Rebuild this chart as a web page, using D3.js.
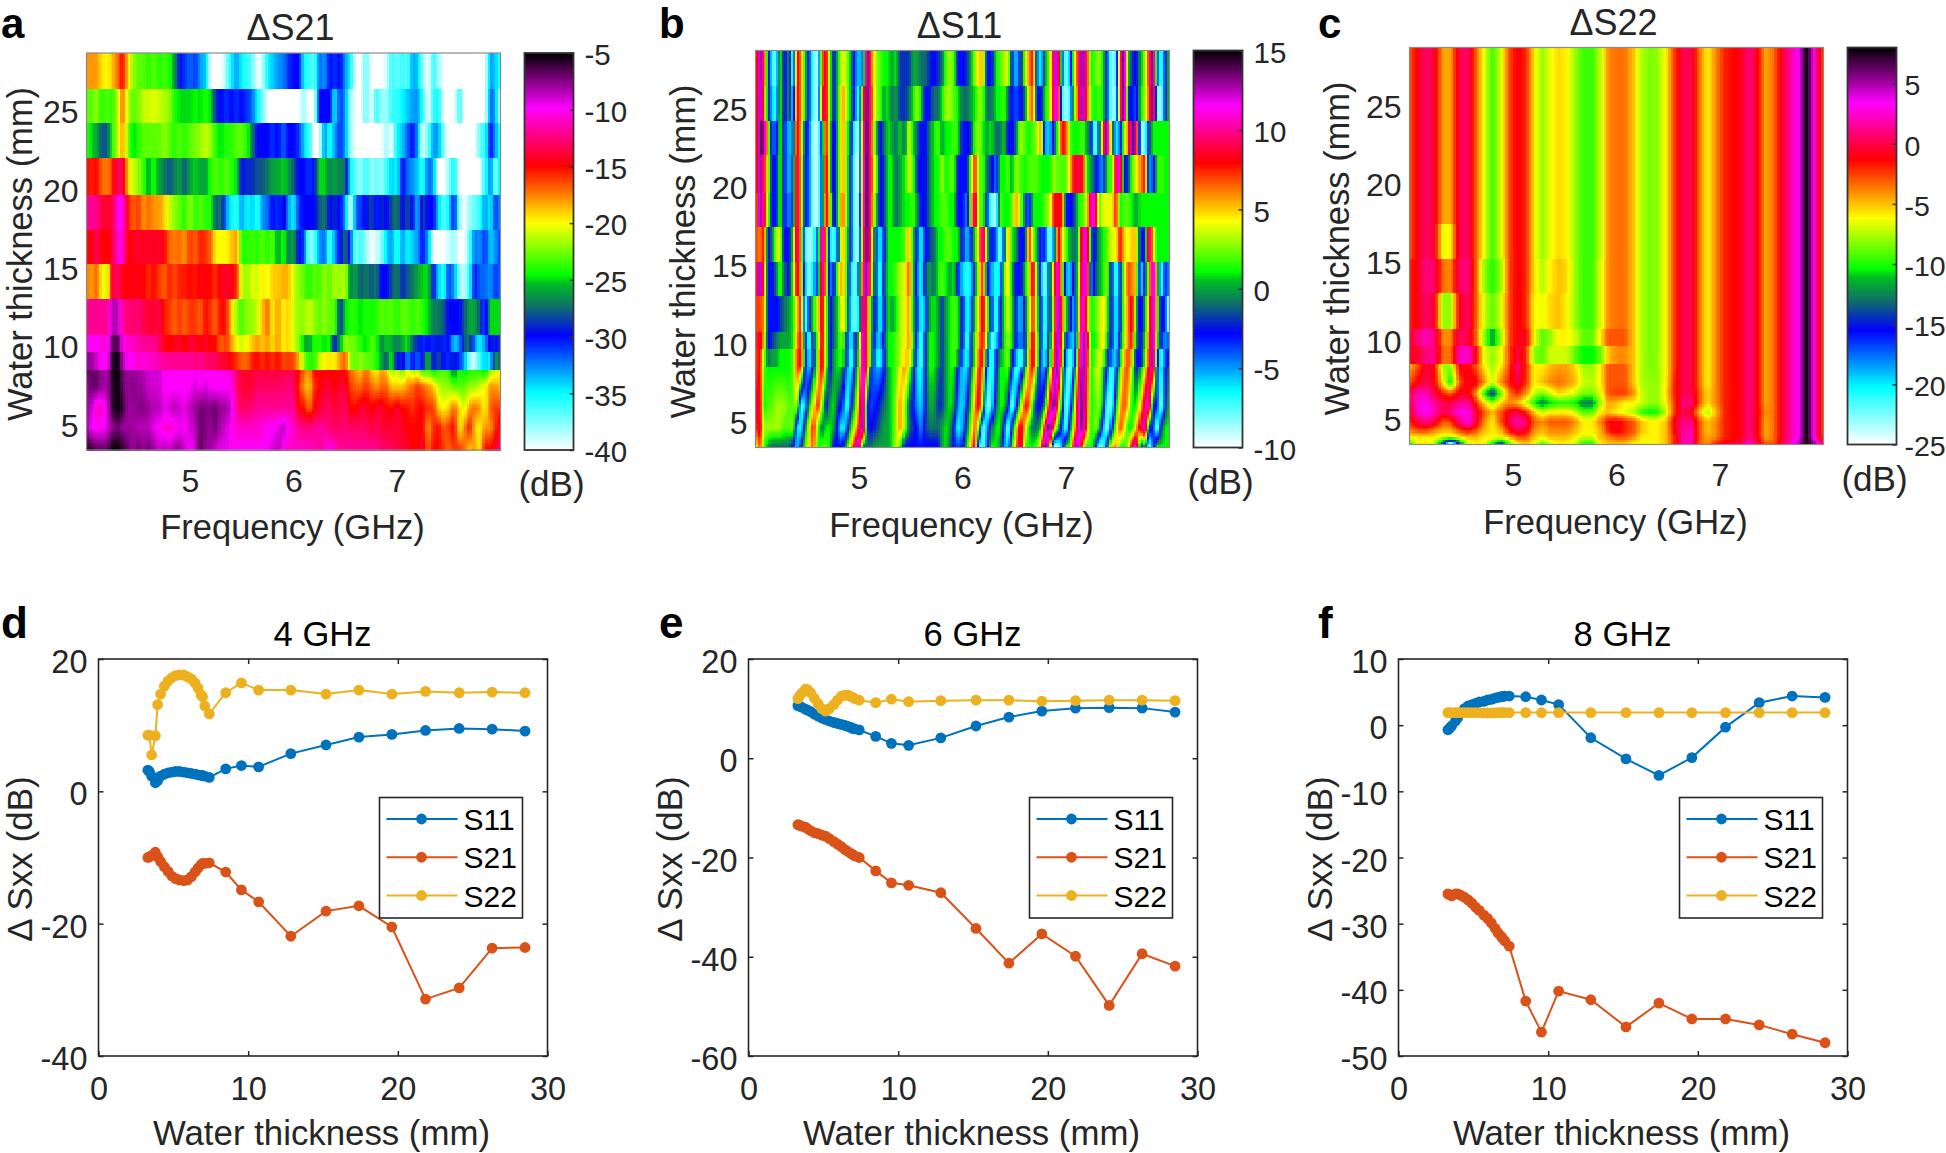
<!DOCTYPE html>
<html>
<head>
<meta charset="utf-8">
<script src="https://cdnjs.cloudflare.com/ajax/libs/d3/7.8.5/d3.min.js"></script>
<style>
    body { margin: 0; background: white; }
    svg { display: block; }
    text { font-family: "Liberation Sans", Arial, sans-serif; fill: #262626; }
</style>
</head>
<body>
<svg id="fig" width="1946" height="1153"></svg>
<script>
// --- heatmap rows, one list per thickness, frequency runs 4 to 8 GHz along each list
const s21Thickness = [28.6, 26.4, 24.2, 22, 19.6, 17.4, 15.2, 13, 10.7, 9.6, 8.4, 7.4, 6, 4.8, 3.4]
const s21Rows = [
  [-18,-18,-18,-19.5,-20,-19,-17,-15,-19,-22,-23,-23,-24,-23,-24,-23.5,-24,-26,-30,-31,-32,-31,-33,-34,-40,-40,-40,-38,-35,-33,-35,-36,-37,-40,-39,-35,-34,-33,-32.5,-31,-30,-30,-35,-36,-37,-32,-33,-30,-31,-30,-33,-35,-40,-40,-37,-40,-40,-40,-39,-36,-37,-36,-37,-33,-34,-38,-40,-36,-38,-40,-40,-40,-40,-40,-40,-40,-40,-40,-33,-34,-36],
  [-23,-23,-22,-24,-23,-24,-21,-17,-21,-23,-22.5,-21,-21,-20.5,-21,-21.5,-22,-24,-25,-25,-25,-24.5,-25,-24,-25,-29,-30,-31,-30,-31,-30,-31,-32,-35,-37,-40,-40,-40,-40,-40,-40,-40,-38,-40,-40,-30,-30,-30,-35,-31,-33,-38,-40,-40,-37,-40,-36,-38,-38,-36,-36,-35,-34,-33,-33,-36,-40,-36,-35,-40,-40,-40,-36,-40,-40,-40,-40,-40,-32,-33,-40],
  [-24,-25,-26,-28,-28,-24,-21,-18,-22,-25,-24,-23,-23,-23,-23,-22,-23,-24,-23,-24,-23,-22.5,-22,-21,-22,-24,-25,-24,-24,-23,-23,-24,-27,-30,-30,-30,-31,-30,-32,-30,-30,-31,-34,-36,-40,-40,-32,-36,-33,-31,-33,-38,-40,-40,-40,-40,-40,-40,-38,-40,-35,-34,-32,-30,-33,-40,-37,-33,-33,-38,-40,-40,-40,-40,-40,-40,-37,-36,-30,-33,-36],
  [-15,-15.5,-15,-17,-17.5,-16,-13,-13.5,-19,-21,-22,-23.5,-26,-24,-26,-27,-28,-27,-26,-28,-26,-25,-26,-26,-24,-23,-24,-23,-24,-25,-30,-29,-29,-28,-28,-27,-26,-26,-25,-26,-28,-30,-30,-31,-30,-25,-25,-27,-26,-27,-27,-35,-37,-38,-36,-38,-37,-38,-36,-34,-35,-30,-32,-33,-34,-36,-32,-33,-40,-40,-38,-35,-40,-40,-40,-40,-40,-36,-32,-38,-34],
  [-12,-12,-12,-14,-14,-14,-10,-10,-15,-17,-16,-18,-17,-18,-18,-19,-21,-22,-23,-24,-22,-24,-23,-24,-24,-28,-27,-33,-35,-36,-33,-35,-34,-36,-33,-32,-30,-31,-29,-33,-35,-31,-30,-30,-30,-28,-27,-30,-29,-30,-33,-40,-32,-31,-30,-28,-31,-29,-30,-28,-27,-30,-28,-30,-34,-28,-30,-30,-34,-37,-35,-30,-38,-40,-38,-37,-36,-33,-35,-31,-33],
  [-14.5,-15,-13,-15,-15,-14,-10.5,-10.5,-15,-14.5,-14,-14.5,-14,-14.5,-14,-15,-17,-17.5,-17,-18,-16,-17,-15.5,-16,-17,-20,-20,-20,-19,-18,-24,-24,-23.5,-24,-23,-24,-23,-26,-24,-27,-26,-30,-31,-38,-37,-33,-32,-37,-33,-30,-27,-31,-38,-36,-38,-40,-39,-38,-34,-33,-36,-33,-35,-34,-33,-30,-33,-40,-40,-40,-39,-38,-40,-40,-37,-32,-33,-31,-34,-33,-31],
  [-17.5,-18,-17,-20,-21,-14,-13,-14.5,-15,-14.5,-15,-14.5,-16,-15,-16,-17,-15.5,-16.5,-15.5,-15.5,-15,-15.5,-14.5,-15,-15,-16,-14.5,-14,-14.5,-16,-21,-22,-20.5,-21,-19.5,-20.5,-19,-19,-18.5,-18.5,-21,-22,-23,-24,-23,-23.5,-22,-23,-21.5,-22,-21,-27,-26,-28,-27,-28,-27,-30,-30,-28,-27,-29,-28,-27,-26,-25,-25,-30,-34,-36,-31,-33,-38,-39,-36,-30,-32,-32,-33,-31,-32],
  [-12,-12,-12,-12,-12,-8.5,-8.5,-12,-12.5,-13,-12.5,-13.5,-14,-14,-13.5,-15.5,-16,-17,-16,-17,-16,-16,-17,-15,-16,-17,-15,-15.5,-19,-22,-23.5,-22,-22,-21,-19,-17,-20,-18,-20,-19,-21,-22,-22,-21,-22,-23,-22,-23,-23,-29,-25,-24,-24,-25,-24,-24.5,-24,-23,-23.5,-23,-24,-23,-23,-24,-23,-24,-25,-27,-27,-28,-30,-30,-30,-28,-26,-26,-28,-32,-25,-25,-25],
  [-10,-10,-10,-10.5,-10.5,-7,-6.5,-10,-11,-11,-11.5,-12,-12,-12,-13,-14.5,-15,-14.5,-14,-15,-14,-14,-15,-14,-15,-15,-17,-16,-18,-20,-21,-20,-19,-18,-19,-18,-19.5,-18,-20,-19,-21,-22,-25.5,-26,-24,-24,-25,-24,-30,-26,-22,-22.5,-23,-24,-25,-23,-24,-27,-25,-26,-27,-26,-24.5,-28,-29,-31,-30,-31,-29,-31,-30,-34,-33,-28,-27,-33,-35,-33,-29,-31,-28],
  [-8,-8,-9,-10,-10,-6,-5,-8.5,-10,-10,-11,-10.5,-11,-11,-11.5,-12,-12,-12,-12,-12,-12,-12.5,-12,-13,-13,-13,-14,-14,-15,-16,-17,-17,-15.5,-15,-16,-15,-16,-15,-16.5,-16,-16.5,-18.5,-22,-24,-24,-21,-20,-19.5,-20,-18,-16.5,-22,-23,-22,-23,-23,-24,-26,-28,-24,-30,-29,-33,-30,-32,-30,-25,-30,-28,-30,-31,-29,-31,-33,-38,-39,-36,-34,-35,-26,-28],
  [-7,-7,-7,-8,-8.5,-5.5,-5,-7,-8,-8,-8,-8.5,-9,-9,-9,-10,-10,-10,-10,-10,-10,-10,-10,-10.5,-10,-10.5,-10,-10.5,-10.5,-13,-14,-14,-14,-13.5,-13.5,-14,-13.5,-14,-13.5,-13.5,-13.5,-15,-17,-18,-15,-15,-15,-15,-15,-15,-15,-17,-18,-19,-17,-19,-20,-18,-19,-22,-21,-23,-20,-22,-21,-24,-23,-25,-24,-23,-24,-27,-24,-25,-24,-24,-24,-25,-22,-21,-20],
  [-8,-7,-7,-8,-8,-6,-5,-7,-8,-7.5,-8,-8,-9,-9,-9,-10,-10,-10,-10,-10,-10,-9,-10,-9,-10,-10,-10,-10,-10,-13,-14,-14,-14,-13,-13,-13,-13,-13,-13,-12.5,-13,-16,-18,-19,-16,-15,-14,-14,-15,-14,-14,-16,-17,-17,-16,-17,-18,-17,-17,-19,-19,-19,-18,-17,-16,-17,-18,-19,-21,-22,-22,-23,-23,-23,-22,-22,-21,-20,-18,-18,-19],
  [-8,-9,-11,-11,-9,-6,-5,-6,-8,-8,-7.5,-7.5,-8,-8.5,-8.5,-9.5,-9,-8.5,-9,-9.5,-8.5,-8,-7,-7.5,-7.5,-7,-8,-8,-9,-12,-13,-13,-12.5,-12,-12,-12,-12,-12,-12,-12,-12,-15,-15,-17,-15,-14,-13.5,-13,-14,-13.5,-13,-15,-15,-14,-14,-15,-14,-14,-15,-15,-14,-15,-15,-16,-15,-15,-16,-16,-19,-20,-19,-17,-19,-21,-18,-17,-18,-20,-17,-16,-16],
  [-8,-10,-10,-10,-9,-8,-7,-8,-8,-8,-8.5,-8.5,-8.5,-9.5,-10,-10.5,-11,-10.5,-9.5,-10,-9,-8.5,-7,-7.5,-8,-7,-8.5,-9,-10,-11,-11,-11,-11,-11,-10.5,-10,-10,-9.5,-8.5,-10,-11,-12,-12.5,-12.5,-12,-12,-12,-13,-13,-13,-12.5,-13,-13,-13,-13,-14,-13,-14,-14,-14,-14,-14,-15,-15,-15,-15,-18,-16,-15,-17,-16,-15,-20,-18,-15,-19,-20,-18,-18,-16,-14],
  [-6,-6,-7,-7,-7,-5,-5,-6,-7,-8,-7,-8,-7,-8,-9,-8.5,-9,-8,-8,-9,-10,-9,-6.5,-8,-8,-9,-9.5,-9.5,-10,-10,-10,-10,-10,-10,-10,-10,-9,-8.5,-10,-11,-11,-11,-11,-11,-11.5,-12,-11,-10,-11,-12,-12,-12,-12,-12,-12,-12,-12,-13,-13,-13,-14,-14,-14,-15,-15,-14,-17,-15,-15,-16,-17,-16,-16,-17,-19,-18,-20,-15,-15,-14,-13]
]

const s11Thickness = [28.6, 26.4, 24.2, 22, 19.6, 17.4, 15.2, 13, 10.7, 9.6, 8.4, 6, 4.6, 3.4]
const s11Rows = [
  [6,14,8,-1,-7,-8,2,-3,0,-9,9,6,1,-3,-8,-9,6,9,2,-3,1,4,3,0,-4,-6,-4,15,7,3,2,1,1,0,1,-2,-2,-2,0,0,-1,-1,-2,-3,-2,-1,2,3,2,-3,-3,-2,0,3,5,5,-3,-3,1,2,3,4,-3,-6,-3,3,6,8,-4,-7,0,2,12,12,-3,-9,-5,3,8,14,8,1,2,3,1,-3,-9,-7,8,15,1,-2,-3,0,3,8,15,-3,-8,-3,1],
  [6,14,7,-1,-6,-7,2,-3,0,-7,9,6,1,-3,-8,-9,8,9,2,-3,1,6,3,0,-4,-8,6,15,8,3,2,0,1,-1,0,-2,-2,-1,1,3,1,-3,-3,-1,-1,1,3,3,2,1,-1,-1,0,1,3,2,-1,-1,1,1,2,-1,-3,-4,-3,-1,5,7,-3,-3,1,2,11,11,-7,-9,-7,2,7,14,7,2,1,2,1,-3,-9,-8,8,15,-2,-3,-4,1,3,7,15,-8,-9,-3,1],
  [6,14,13,4,-4,-4,2,-3,-6,-4,10,5,-2,-4,-9,-9,-2,9,1,-4,1,6,2,-2,-8,-9,8,15,8,1,-3,-1,1,0,-1,1,-1,4,1,-1,-3,-3,-1,1,2,0,1,1,2,1,-3,-3,-2,2,3,1,0,1,-1,-1,1,-3,-3,-1,3,2,1,2,3,6,-5,-6,-2,2,8,7,2,1,1,2,0,-2,-9,-3,7,15,1,-7,-4,3,6,14,12,-9,-8,-2,1,1,1,1,1],
  [6,14,8,4,-3,-3,2,-3,-6,-3,11,5,-3,-4,-9,-9,-3,10,1,-4,1,6,2,-3,-9,-9,9,15,8,3,-3,-2,1,1,-1,0,1,4,2,-2,-3,-3,-1,1,1,3,1,2,2,-3,-3,-3,3,8,2,2,-1,-2,-5,1,1,2,0,3,2,1,2,2,2,1,1,1,3,2,2,2,5,8,9,8,1,0,-2,-4,-5,1,2,9,12,-3,-2,2,4,6,8,-5,-4,1,2,1,1],
  [5,14,9,3,-3,-3,2,-3,-5,-3,11,5,-3,-4,-9,-9,-3,9,4,-4,1,7,2,-3,-9,-8,9,15,8,1,-3,-2,1,1,-1,0,1,1,2,0,-3,-3,-1,1,1,2,2,1,1,-3,-3,-5,4,11,2,2,-3,-8,-9,2,1,1,2,6,3,-1,-5,1,1,1,2,3,8,8,8,-3,-3,-2,1,2,4,11,11,2,4,4,4,8,1,2,2,1,0,1,1,1,1,1,1,1,1],
  [7,6,8,-3,-1,3,4,-3,-3,1,11,5,-7,-9,-8,-3,14,5,-6,-8,-3,6,1,-3,-9,-8,7,15,7,-3,-7,-3,1,1,1,1,2,6,1,-3,-7,-3,-2,-1,1,1,2,2,1,1,-3,-6,-3,1,5,12,1,-3,-4,-9,-3,6,1,0,-3,-3,8,3,0,-4,-3,-9,-4,9,5,2,0,-1,0,11,11,-1,-3,0,1,2,4,4,8,5,4,5,5,-3,-3,12,5,1,1,1,1],
  [7,14,7,-3,-3,-1,2,-1,-3,2,9,5,-5,-9,-6,-3,12,5,-5,-3,3,6,1,-6,-9,-3,9,14,5,-3,-8,-2,1,1,2,3,4,7,1,-4,-7,-2,0,-1,1,2,1,0,1,-3,-6,-7,-6,-1,4,8,-2,-5,-7,-6,2,5,0,-3,-3,0,4,9,2,-5,-9,-3,7,12,4,-5,-6,-2,1,12,11,-5,-2,0,1,3,-3,-8,-3,3,7,6,5,-7,-2,4,14,3,-8,-3,-5],
  [7,7,6,-3,-3,-3,-2,-1,0,1,5,8,-9,-3,1,4,9,3,-3,-1,1,5,1,-7,-8,-6,14,7,1,-3,-7,-3,1,0,1,3,4,6,1,-3,-7,-5,0,1,0,-2,0,1,2,1,-3,-7,-5,1,5,9,3,-3,-8,-3,1,4,1,-3,-6,-2,3,8,2,-3,-8,-3,5,14,7,1,-2,-6,2,13,6,1,2,3,5,2,-3,-7,-3,3,6,9,1,-4,0,6,14,3,-3,-3,-10],
  [7,9,5,-3,-2,-1,0,0,0,1,6,8,-2,-8,-2,3,9,3,-3,-1,1,3,-3,-7,-3,1,14,7,1,-5,-6,-2,1,1,2,3,4,6,2,-4,-8,-3,1,1,0,-2,0,1,2,1,-3,-8,-3,2,6,8,3,-8,-6,-3,1,3,1,-3,-5,-3,4,9,3,-3,-8,-2,7,14,6,-3,-5,-6,3,14,10,1,1,3,5,1,-3,-7,-2,3,6,8,0,-3,1,7,14,2,-3,-5,-4],
  [7,8,3,-1,0,0,1,1,1,2,7,8,-1,-7,-3,4,9,3,-3,0,1,2,-3,-8,-3,2,14,7,1,-6,-7,-3,1,1,2,3,5,5,1,-5,-8,-3,1,1,0,-2,0,1,2,0,-5,-7,-3,2,7,8,-2,-8,-3,0,1,3,-2,-5,-8,-3,5,9,3,-4,-7,-1,8,14,5,-5,-8,-5,5,14,9,1,2,4,3,-1,-5,-6,0,5,7,5,-3,-3,2,8,14,-1,-8,-4,-2],
  [7,8,2,1,1,1,1,1,1,2,7,7,-3,-6,-2,4,9,2,-3,0,1,0,-5,-7,-2,3,14,6,-3,-5,-5,-3,0,1,2,4,6,3,-1,-6,-7,-3,1,1,-1,-2,0,1,1,-3,-6,-6,-1,3,8,6,-5,-8,-3,1,1,2,-3,-8,-6,0,6,8,1,-5,-5,1,11,14,3,-6,-9,-3,7,14,8,1,3,4,1,-3,-8,-4,2,6,7,3,-3,0,4,9,11,-3,-7,-3,-1],
  [8,9,1,2,2,3,3,3,2,2,4,-8,-6,0,4,8,3,-3,0,1,-2,-3,-8,-3,1,6,14,-2,-4,-3,-2,-1,0,1,3,6,3,-1,-3,-5,-6,-3,0,0,-2,-2,0,1,0,-5,-6,-3,1,6,9,2,-9,-7,-1,1,1,-2,-9,-4,2,8,7,1,-3,-3,0,8,15,6,0,-9,-5,2,10,14,7,1,2,3,0,-8,-8,0,5,7,5,1,1,5,10,12,-2,-3,-9,-3,1],
  [7,9,3,3,3,3,3,2,2,3,-6,-7,-1,4,8,2,-1,1,1,0,-4,-7,-4,1,4,8,14,-2,-3,-2,-1,0,0,1,3,6,3,-1,-2,-3,-5,-2,-1,-1,-1,0,1,0,-3,-7,-5,-1,3,7,2,-9,-5,-1,1,1,-3,-9,-2,4,9,5,1,-1,-1,1,9,15,6,1,-4,-8,-1,4,10,14,6,1,3,1,-5,-9,-3,3,7,5,1,1,5,9,12,-2,-3,-9,-2,1,1],
  [4,7,2,0,-1,-1,-1,-1,-1,-3,-6,-3,2,4,7,1,2,2,1,-3,-3,-3,1,5,9,14,-1,-1,-1,0,0,0,0,1,4,2,-3,-3,-3,-3,-3,-3,-3,-3,-3,0,1,-1,-3,-4,-3,1,5,9,-7,-8,-4,1,1,0,-5,-6,1,6,10,2,1,1,2,6,15,8,-9,-9,-5,1,2,9,14,5,1,2,-1,-8,-8,-2,5,6,2,1,3,9,12,-3,1,-9,-4,1,1,1,1]
]

const s22Thickness = [28.6, 26.4, 24.2, 22, 19.6, 17.4, 15.2, 13, 10.7, 9.6, 8.4, 7.3, 6.6, 6, 5.4, 4.8, 4.2, 3.8, 3.4]
const s22Mid = [-4,-3.5,-3.5,-5,-7.5,-8.5,-8,-6,-2.5,0,0,-3.5,-6]
const s22Right = [-4,-2,-1.5,-1,1,-1,-4.5,-3.5,-.5,1.5,3.5,8,2,-3]
const s22Upper = [-3,-1,.5,-.5,-4.5,-4.5,0,.5,-3,-6.5,-9.5,-7,-3,-1,-2,-5.5,-8,-6.5,-5.5,-6,-8,-9.5,-9.5,-7.5,...s22Mid,...s22Right]
const s22Rows = [
  s22Upper, s22Upper, s22Upper, s22Upper, s22Upper,
  [-3,-1,.5,-.5,-6.5,-6,0,.5,-3,-6.5,-9.5,-7,-3,-1,-2,-5.5,-8,-6.5,-5.5,-6,-8,-9.5,-9.5,-7.5,...s22Mid,...s22Right],
  [-2,-1,1,.5,-3.5,-4,.5,1,-3,-8,-10,-8,-3,-1,-2,-5.5,-7.5,-6,-5,-5.5,-8,-9.5,-9.5,-7,...s22Mid,...s22Right],
  [-2,-1,.5,-.5,-8,-8,-1,.5,-3,-7,-9,-7,-3,-1,-2,-6,-6.5,-5.5,-5,-6,-8,-9.5,-9.5,-7,...s22Mid,...s22Right],
  [-1,1,2,1,-4,-4,.5,0,-3,-8,-12,-8,-3,-1,-1,-6,-9,-8,-6,-6,-7,-9,-9,-6,-3,-3,-3,-5,-7.5,-8.5,-8,-6,-2.5,0,0,-3.5,-6,...s22Right],
  [-1,-.5,1,1,-3.5,-3.5,2,2.5,-1,-6.5,-8,-6.5,-3,0,-2,-8,-9,-7,-7,-7,-9,-10.5,-10.5,-9,-5,-4,-4,-5,-7.5,-8.5,-8,-6,-2.5,0,0,-3.5,-6,...s22Right],
  [-5,-3,-.5,-1,-8,-8,-1,-1,-3,-6,-8,-6,-3,1,-2,-6,-6,-5,-4.5,-4.5,-5.5,-8,-8,-6,-3,-3,-3,-5,-7.5,-8.5,-8,-6,-2.5,0,0,-3.5,-6,...s22Right],
  [-3,-1,0,-1,-6,-10.5,-3,-1,-1,-4,-7,-4,-2,0,-2,-6,-5,-4,-3.5,-4,-5,-7,-7.5,-6,-3,-3,-3,-5,-7.5,-8,-8,-6,-2,0,0,-3.5,-6,...s22Right],
  [0,2,2,0,-2,-3,-1,-1,-4,-10,-15,-9,-4,-2,-4,-7,-8.5,-7,-5.5,-6,-7,-8.5,-8.5,-7,-3,-2.5,-2.5,-4,-7,-8,-8,-5.5,-2,0,0,-3,-5.5,...s22Right],
  [0,2.5,3,1.5,0,0,1,1.5,-2,-5.5,-8,-5.5,-4,-5,-7,-10,-13,-11,-10,-10,-10.5,-13,-13,-8,-4.5,-5,-6,-6,-7,-8,-8,-6,-2.5,1,1,-3,-5.5,...s22Right],
  [-1,2.5,3.5,2,0,1,3,3,0,-3,-5,-3,-1,0,-2,-5,-7,-6,-6,-6,-7,-9,-9,-6,-5,-6,-6.5,-7.5,-9.5,-10.5,-10,-7,-2.5,0,-1,-5,-7.5,-5,-2,-1.5,-1,1,-1,-4,-3.5,-.5,1.5,3.5,8,2,-3],
  [-2,0,1,0,-3,-2.5,1,3,0,-4,-6,-3,0,2,1,-3,-4,-3,-3,-3,-4,-6,-6,-4,-1.5,-1,-2,-3,-5,-6,-6,-5,-1,1,1,-3,-5,...s22Right],
  [-4,-3,-3,-4,-5,-5,-3,-2,-3,-5,-6,-5,-2,0,-1,-4,-5,-4,-4,-4,-5,-6,-6,-5,-2,-1,-2,-3,-5,-6,-6,-5,-1.5,1.5,2,-3,-5,...s22Right],
  [-6,-6,-6,-6,-7,-7,-6,-5,-5,-6,-6,-6,-5,-3,-3,-5,-6,-5,-5,-5,-6,-7,-7,-5,-4,-3,-3,-4,-6,-6,-6,-5,-2,1.5,2,-3,-4.5,...s22Right],
  [-10,-6,-6,-7,-14,-25,-14,-7,-6,-6,-10,-15,-9,-6,-5,-6,-9,-7,-6,-6,-7,-10,-10,-6,-5,-5,-5,-6,-6,-6,-6,-5,-2,2,2,-3,-4,-2,-1,-1,0,3,0,-3,-3,0,2,5,8,5,0]
]

const freqTicks = [5, 6, 7]
const thickTicks = [5, 10, 15, 20, 25]
const s21BarTicks = [-5, -10, -15, -20, -25, -30, -35, -40]
const s11BarTicks = [15, 10, 5, 0, -5, -10]
const s22BarTicks = [5, 0, -5, -10, -15, -20, -25]

// --- line panels
const waterThickness = [3.3,3.4,3.55,3.8,3.95,4.15,4.4,4.65,4.9,5.15,5.4,5.7,5.95,6.2,6.45,6.65,6.85,6.95,7.1,7.4,8.5,9.55,10.7,12.85,15.2,17.4,19.6,21.85,24.1,26.3,28.5]
const seriesNames = ["S11", "S21", "S22"]
const seriesColors = ["#0072BD", "#D95319", "#EDB120"]

const s11At4 = [3.2,3,2.3,1.3,1.6,2.3,2.6,2.8,2.9,3,3,2.9,2.8,2.7,2.6,2.5,2.4,2.4,2.3,2.1,3.4,3.9,3.7,5.7,7,8.2,8.6,9.2,9.5,9.4,9.1]
const s21At4 = [-10,-9.9,-9.7,-9.2,-9.9,-10.6,-11.4,-12.1,-12.8,-13.2,-13.4,-13.5,-13.4,-12.9,-12.2,-11.6,-11.1,-10.9,-10.9,-10.8,-12.2,-14.9,-16.7,-21.9,-18.1,-17.3,-20.5,-31.4,-29.7,-23.7,-23.6]
const s22At4 = [8.5,8.5,5.5,8.4,13.1,14.7,15.9,16.7,17.2,17.5,17.6,17.6,17.3,17,16.4,15.6,14.6,14.3,12.9,11.7,14.9,16.4,15.3,15.3,14.7,15.3,14.7,15.1,14.9,15,14.9]

const s11At6 = [10.6,10.5,10.3,9.9,9.7,9.4,8.9,8.5,8.1,7.8,7.5,7.2,7,6.8,6.6,6.4,6.2,6,5.9,5.7,4.4,3,2.6,4.1,6.5,8.3,9.5,10.1,10.2,10.1,9.3]
const s21At6 = [-13.4,-13.5,-13.7,-13.9,-14.2,-14.6,-15,-15.2,-15.5,-15.7,-16.2,-16.8,-17.3,-17.8,-18.4,-18.8,-19.2,-19.4,-19.7,-20,-22.7,-25.1,-25.6,-27.1,-34.3,-41.3,-35.4,-39.9,-49.8,-39.4,-41.9]
const s22At6 = [12,12.5,13.1,13.9,13.8,13.2,12.1,11,10,9.5,10,10.8,11.7,12.5,12.7,12.7,12.4,12.3,12,11.7,11.2,11.9,11.4,11.6,11.7,11.7,11.5,11.6,11.7,11.7,11.6]

const s11At8 = [-.7,-.5,-.1,.6,1.1,1.8,2.5,2.9,3.1,3.3,3.5,3.6,3.8,3.9,4.1,4.2,4.3,4.3,4.4,4.4,4.3,3.8,3.1,-1.9,-5.1,-7.6,-4.9,-.3,3.4,4.4,4.2]
const s21At8 = [-25.5,-25.6,-25.8,-25.5,-25.5,-25.7,-26,-26.4,-26.9,-27.5,-28,-28.7,-29.2,-29.9,-30.7,-31.4,-31.9,-32.2,-32.6,-33.4,-41.7,-46.4,-40.2,-41.5,-45.6,-42,-44.4,-44.4,-45.3,-46.7,-48]
const s22At8 = [1.9,1.9,1.9,1.9,1.9,1.9,1.9,1.9,1.9,1.9,1.9,1.85,1.85,1.85,1.85,1.9,1.9,1.9,1.9,1.9,1.9,1.9,1.9,1.9,1.9,1.9,1.9,1.9,1.9,1.9,1.9]

const jetFractions = [0, .143, .286, .36, .42, .44, .57, .715, .86, .93, 1]
const jetColors = ["#ffffff", "#00ffff", "#0000ff", "#0e6e6a", "#00c020", "#00ff00", "#ffff00", "#ff0000", "#ff00ff", "#800080", "#000000"]

const svg = d3.select("#fig")
const jet = d3.scaleLinear().domain(jetFractions).range(jetColors).clamp(true)

function addText(x, y, str, size, anchor, weight, rotate) {
    let t = svg.append("text")
        .attr("font-size", size)
        .attr("text-anchor", anchor || "middle")
        .attr("font-weight", weight || "normal")
        .text(str)
    if (rotate) t.attr("transform", `translate(${x},${y}) rotate(-90)`)
    else t.attr("x", x).attr("y", y)
    return t
}

// value between rows: flat bands above 8.45 mm, blended below it
function makeLookup(thickness, rows) {
    let rowFns = rows.map(r => d3.scaleLinear()
        .domain(r.map((_, i) => 4 + 4 * i / (r.length - 1)))
        .range(r).clamp(true))
    let smooth = thickness.map((t, i) => ({ t, fn: rowFns[i] })).filter(d => d.t < 8.45).reverse()
    let index = d3.scaleLinear()
        .domain(smooth.map(d => d.t))
        .range(smooth.map((_, i) => i))
        .clamp(true)
    return function (f, t) {
        if (t >= 8.45) {
            let i = d3.bisector(d => -d).right(thickness, -t)
            return rowFns[Math.max(i - 1, 0)](f)
        }
        let p = index(t)
        let lo = Math.floor(p)
        let hi = Math.min(lo + 1, smooth.length - 1)
        return smooth[lo].fn(f) * (1 - (p - lo)) + smooth[hi].fn(f) * (p - lo)
    }
}

function drawHeatmap(c) {
    let x = d3.scaleLinear().domain([4, 8]).range([c.left, c.left + 414])
    let y = d3.scaleLinear().domain([3.34, 28.67]).range([c.top + 397, c.top])
    let lookup = makeLookup(c.thickness, c.rows)
    let level = d3.scaleLinear().domain(c.range).range([0, 1])

    // y bands: one per flat row, thin slices under 8.45 mm
    let bands = []
    c.thickness.filter(t => t >= 8.45).forEach((t, i, all) => {
        bands.push({ hi: i == 0 ? 28.67 : t, lo: i + 1 < all.length ? all[i + 1] : 8.45, t: t })
    })
    for (let t = 8.45; t > 3.34; t -= 0.15) {
        bands.push({ hi: t, lo: Math.max(t - 0.15, 3.34), t: t - 0.075 })
    }
    let cells = []
    let fs = d3.range(4, 8, c.step)
    bands.forEach(b => fs.forEach(f => cells.push({ f, b, v: lookup(f + c.step / 2, b.t) })))

    svg.append("g").selectAll("rect").data(cells).enter().append("rect")
        .attr("x", d => x(d.f))
        .attr("y", d => y(d.b.hi))
        .attr("width", d => x(d.f + c.step) - x(d.f) + 0.6)
        .attr("height", d => y(d.b.lo) - y(d.b.hi) + 0.6)
        .attr("fill", d => jet(level(d.v)))
        .attr("shape-rendering", "crispEdges")

    svg.append("rect")
        .attr("x", c.left).attr("y", c.top).attr("width", 414).attr("height", 397)
        .attr("fill", "none").attr("stroke", "#8a8a8a").attr("stroke-width", 1.2)

    let xAxis = svg.append("g")
        .attr("transform", `translate(0,${c.top + 397})`)
        .call(d3.axisBottom(x).tickValues(freqTicks).tickFormat(d => d).tickSize(0).tickPadding(19))
    let yAxis = svg.append("g")
        .attr("transform", `translate(${c.left},0)`)
        .call(d3.axisLeft(y).tickValues(thickTicks).tickFormat(d => d).tickSize(0).tickPadding(8))
    for (let a of [xAxis, yAxis]) {
        a.select(".domain").remove()
        a.selectAll("text").attr("font-size", 32).attr("font-family", null)
    }
    yAxis.selectAll("text").attr("dy", "0.38em")

    // colour bar
    let barX = c.left + 438
    let barY = d3.scaleLinear().domain(c.range).range([c.top + 397, c.top])
    let barStep = (c.range[1] - c.range[0]) / 200
    let barVals = d3.range(c.range[0], c.range[1], barStep)
    svg.append("g").selectAll("rect").data(barVals).enter().append("rect")
        .attr("x", barX).attr("width", 49)
        .attr("y", d => barY(d + barStep))
        .attr("height", d => barY(d) - barY(d + barStep) + 0.6)
        .attr("fill", d => jet(level(d)))
        .attr("shape-rendering", "crispEdges")
    svg.append("rect")
        .attr("x", barX).attr("y", c.top).attr("width", 49).attr("height", 397)
        .attr("fill", "none").attr("stroke", "#333").attr("stroke-width", 1.8)
    let barAxis = svg.append("g")
        .attr("transform", `translate(${barX + 49},0)`)
        .call(d3.axisRight(barY).tickValues(c.barTicks).tickFormat(d => d).tickSizeInner(-4).tickSizeOuter(0).tickPadding(c.barPad))
    barAxis.select(".domain").remove()
    barAxis.selectAll("line").attr("stroke", "#333").attr("stroke-width", 1.5)
    barAxis.selectAll("text").attr("font-size", c.barFont).attr("font-family", null).attr("dy", "0.4em")

    addText(barX + 27, c.top + 443, "(dB)", 35)
    addText(c.left + 204, c.top - 13, c.title, 36)
    addText(c.left + 206, c.top + 486, "Frequency (GHz)", 34.5)
    addText(c.labelX, c.top + 201, "Water thickness (mm)", 34.5, "middle", "normal", true)
    addText(c.letterX, 38, c.letter, 42, "start", "bold").style("fill", "#000")
}

function drawLines(c) {
    let x = d3.scaleLinear().domain([0, 30]).range([c.left, c.left + 449])
    let y = d3.scaleLinear().domain(c.yDomain).range([1056, 659])

    svg.append("rect")
        .attr("x", c.left).attr("y", 659).attr("width", 449).attr("height", 397)
        .attr("fill", "white").attr("stroke", "#262626").attr("stroke-width", 1.6)

    let xAxis = svg.append("g").attr("transform", "translate(0,1056)")
        .call(d3.axisBottom(x).tickValues([0, 10, 20, 30]).tickFormat(d => d).tickSizeInner(-5).tickSizeOuter(0).tickPadding(21))
    let xTop = svg.append("g").attr("transform", "translate(0,659)")
        .call(d3.axisTop(x).tickValues([10, 20]).tickSizeInner(-5).tickSizeOuter(0).tickFormat(""))
    let yAxis = svg.append("g").attr("transform", `translate(${c.left},0)`)
        .call(d3.axisLeft(y).tickValues(c.yTicks).tickFormat(d => d).tickSizeInner(-5).tickSizeOuter(0).tickPadding(11))
    let yRight = svg.append("g").attr("transform", `translate(${c.left + 449},0)`)
        .call(d3.axisRight(y).tickValues(c.yTicks).tickSizeInner(-5).tickSizeOuter(0).tickFormat(""))
    for (let a of [xAxis, xTop, yAxis, yRight]) {
        a.select(".domain").remove()
        a.selectAll("line").attr("stroke", "#262626").attr("stroke-width", 1.5)
        a.selectAll("text").attr("font-size", 32.5).attr("font-family", null)
    }
    yAxis.selectAll("text").attr("dy", "0.42em")

    let line = d3.line().x((d, i) => x(waterThickness[i])).y(d => y(d))
    c.series.forEach((vals, i) => {
        let g = svg.append("g")
        g.append("path").attr("d", line(vals))
            .attr("fill", "none").attr("stroke", seriesColors[i]).attr("stroke-width", 2)
        g.selectAll("circle").data(vals).enter().append("circle")
            .attr("cx", (d, j) => x(waterThickness[j]))
            .attr("cy", d => y(d))
            .attr("r", 5.4)
            .attr("fill", seriesColors[i])
    })

    // legend
    let lx = c.left + 281
    svg.append("rect")
        .attr("x", lx).attr("y", 797.5).attr("width", 143).attr("height", 120.5)
        .attr("fill", "white").attr("stroke", "#262626").attr("stroke-width", 1.6)
    let rowY = d3.scalePoint().domain(seriesNames).range([819, 895.5])
    seriesNames.forEach((name, i) => {
        svg.append("line")
            .attr("x1", lx + 7).attr("x2", lx + 78)
            .attr("y1", rowY(name)).attr("y2", rowY(name))
            .attr("stroke", seriesColors[i]).attr("stroke-width", 2)
        svg.append("circle")
            .attr("cx", lx + 42).attr("cy", rowY(name)).attr("r", 5.4)
            .attr("fill", seriesColors[i])
        addText(lx + 84, rowY(name) + 11, name, 30, "start").style("fill", "#000")
    })

    addText(c.left + 224, 646, c.title, 34.5).style("fill", "#000")
    addText(c.left + 223, 1145, "Water thickness (mm)", 34.8)
    addText(c.left - 66.5, 859, "\u0394 Sxx (dB)", 35, "middle", "normal", true)
    addText(c.letterX, 638, c.letter, 44, "start", "bold").style("fill", "#000")
}

drawHeatmap({ left: 86.5, top: 53, title: "\u0394S21", letter: "a", letterX: 1, labelX: 31.5,
    thickness: s21Thickness, rows: s21Rows, range: [-40, -5], barTicks: s21BarTicks, step: 0.025, barFont: 29.5, barPad: 11 })
drawHeatmap({ left: 755.5, top: 50.5, title: "\u0394S11", letter: "b", letterX: 659, labelX: 695,
    thickness: s11Thickness, rows: s11Rows, range: [-10, 15], barTicks: s11BarTicks, step: 0.02, barFont: 29.5, barPad: 11 })
drawHeatmap({ left: 1409.5, top: 47.5, title: "\u0394S22", letter: "c", letterX: 1318, labelX: 1349,
    thickness: s22Thickness, rows: s22Rows, range: [-25, 8], barTicks: s22BarTicks, step: 0.025, barFont: 28.5, barPad: 8 })

drawLines({ left: 98.5, title: "4 GHz", letter: "d", letterX: 1, yDomain: [-40, 20], yTicks: [-40, -20, 0, 20],
    series: [s11At4, s21At4, s22At4] })
drawLines({ left: 748.5, title: "6 GHz", letter: "e", letterX: 659, yDomain: [-60, 20], yTicks: [-60, -40, -20, 0, 20],
    series: [s11At6, s21At6, s22At6] })
drawLines({ left: 1398.5, title: "8 GHz", letter: "f", letterX: 1318, yDomain: [-50, 10], yTicks: [-50, -40, -30, -20, -10, 0, 10],
    series: [s11At8, s21At8, s22At8] })
</script>
</body>
</html>
